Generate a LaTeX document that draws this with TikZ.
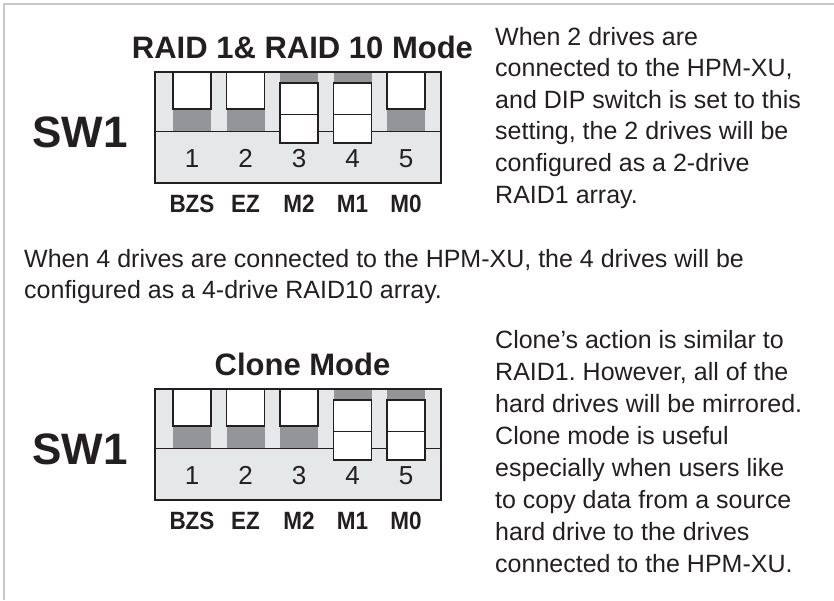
\documentclass[tikz,border=0pt]{standalone}
\usepackage{fontspec}
\setmainfont{Liberation Sans}
\usepackage{tikz}
\frenchspacing
\definecolor{switchbg}{HTML}{E6E7E8}
\definecolor{slotgray}{HTML}{939598}
\definecolor{framegray}{HTML}{C8C8C8}
\definecolor{ink}{HTML}{231F20}
\tikzset{font={\fontsize{25pt}{31.6pt}\selectfont}}
\tikzset{
	lever/.style={draw=ink, fill=white, line width=1.6pt},
	digit/.style={anchor=base, text=ink, font={\fontsize{26pt}{26pt}\selectfont}},
	pinlabel/.style={anchor=base, text=ink, font={\fontsize{25pt}{25pt}\selectfont\bfseries}},
	modetitle/.style={anchor=base, text=ink, font={\fontsize{31pt}{31pt}\selectfont\bfseries}},
	swname/.style={anchor=base, text=ink, font={\fontsize{44pt}{44pt}\selectfont\bfseries}},
	bodytext/.style={anchor=base west, inner sep=0pt, text=ink}
}

\begin{document}
\begin{tikzpicture}[x=1pt,y=-1pt]
		\useasboundingbox (0,0) rectangle (834,600);
		%Frame
		\draw[framegray, line width=1.6pt] (4,600) -- (4,4) -- (834,4);
		%RAID switch
		\begin{scope}[shift={(155,72)}]
		\draw[line width=2pt, fill=switchbg] (0,0) rectangle (286,111);
		\draw[line width=1pt, draw=ink] (0,59) -- (286,59);
		\foreach \s [count=\i] in {0,0,1,1,0} {
			\pgfmathsetmacro\xl{18+(\i-1)*53.5}
			\ifnum\s=0
				\fill[slotgray] (\xl,0) rectangle (\xl+38,59);
				\draw[lever] (\xl,0) rectangle (\xl+38,37);
			\else
				\fill[slotgray] (\xl,0) rectangle (\xl+38,11);
				\draw[lever] (\xl,11) rectangle (\xl+38,71);
				\draw[line width=1pt, draw=ink] (\xl,42) -- (\xl+38,42);
			\fi
			\node[digit] (numA\i) at (\xl+19,95) {\i};
		}
		\draw[line width=2pt, draw=ink] (0,0) rectangle (286,111);
		\foreach \lab [count=\i] in {BZS,EZ,M2,M1,M0}
		\node[pinlabel] (labA\i) at ({37+(\i-1)*53.5},140) {\scalebox{0.9}[1]{\lab}};
		\node[modetitle] (titleA) at (147.5,-14) {RAID 1\& RAID 10 Mode};
		\node[swname] (swA) at (-75,75) {SW1};
		\end{scope}
		%Clone switch
		\begin{scope}[shift={(155,389)}]
		\draw[line width=2pt, fill=switchbg] (0,0) rectangle (286,111);
		\draw[line width=1pt, draw=ink] (0,59) -- (286,59);
		\foreach \s [count=\i] in {0,0,0,1,1} {
			\pgfmathsetmacro\xl{18+(\i-1)*53.5}
			\ifnum\s=0
				\fill[slotgray] (\xl,0) rectangle (\xl+38,59);
				\draw[lever] (\xl,0) rectangle (\xl+38,37);
			\else
				\fill[slotgray] (\xl,0) rectangle (\xl+38,11);
				\draw[lever] (\xl,11) rectangle (\xl+38,71);
				\draw[line width=1pt, draw=ink] (\xl,42) -- (\xl+38,42);
			\fi
			\node[digit] (numB\i) at (\xl+19,95) {\i};
		}
		\draw[line width=2pt, draw=ink] (0,0) rectangle (286,111);
		\foreach \lab [count=\i] in {BZS,EZ,M2,M1,M0}
		\node[pinlabel] (labB\i) at ({37+(\i-1)*53.5},140) {\scalebox{0.9}[1]{\lab}};
		\node[modetitle] (titleB) at (147.5,-14) {Clone Mode};
		\node[swname] (swB) at (-75,75) {SW1};
		\end{scope}
		%Text beside RAID switch
		\foreach \line [count=\k] in {When 2 drives are, {connected to the HPM-XU,},
			and DIP switch is set to this, {setting, the 2 drives will be},
			configured as a 2-drive, RAID1 array.}
		\node[bodytext] (noteA\k) at (495,{45+31.6*(\k-1)}) {\line};
		%Text across
		\node[bodytext] (noteMidA) at (24,267) {When 4 drives are connected to the HPM-XU, the 4 drives will be};
		\node[bodytext] (noteMidB) at (24,298) {configured as a 4-drive RAID10 array.};
		%Text beside Clone switch
		\foreach \line [count=\k] in {Clone’s action is similar to, {RAID1. However, all of the},
			hard drives will be mirrored., Clone mode is useful,
			especially when users like, to copy data from a source,
			hard drive to the drives, connected to the HPM-XU.}
		\node[bodytext] (noteB\k) at (495,{348+32*(\k-1)}) {\line};
\end{tikzpicture}
\end{document}
